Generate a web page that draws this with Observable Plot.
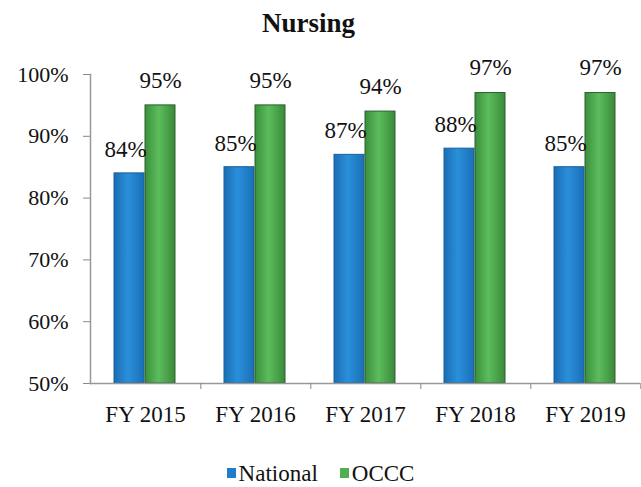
<!DOCTYPE html>
<html>
<head>
<meta charset="utf-8">
<script src="https://cdn.jsdelivr.net/npm/d3@7"></script>
<script src="https://cdn.jsdelivr.net/npm/@observablehq/plot@0.6"></script>
<style>
  html, body { margin: 0; padding: 0; background: #fff; }
  body { width: 641px; height: 487px; overflow: hidden; font-family: serif; }
  #title { height: 44px; line-height: 46px; text-align: center; font-size: 27px; font-weight: bold; color: #111; padding-right: 24px; box-sizing: border-box; font-family: serif; }
  #legend { height: 43px; display: flex; justify-content: center; align-items: center; gap: 22px; font-size: 23px; color: #111; padding-top: 16px; box-sizing: border-box; font-family: serif; }
  .sw { display: inline-block; width: 9px; height: 10px; margin-right: 3px; vertical-align: middle; position: relative; top: -2px; }
  svg { display: block; }
  svg text { font-family: serif; }
</style>
</head>
<body>
<div id="title">Nursing</div>
<div id="chart"></div>
<div id="legend"></div>
<script>
const years = ["FY 2015", "FY 2016", "FY 2017", "FY 2018", "FY 2019"];
const series = ["National", "OCCC"];
const national = [84, 85, 87, 88, 85];
const occc = [95, 95, 94, 97, 97];
const yTicks = [50, 60, 70, 80, 90, 100];
const colors = ["#1f7ecb", "#4fae4f"];

const data = [];
years.forEach((y, i) => {
  data.push({year: y, series: "National", value: national[i]});
  data.push({year: y, series: "OCCC", value: occc[i]});
});

const W = 641, H = 400, ML = 88, MR = 0;
const halfStep = (W - ML - MR) / years.length / 2;
const serif = "serif";

const plot = Plot.plot({
  width: W,
  height: H,
  marginLeft: ML,
  marginRight: MR,
  marginTop: 30,
  marginBottom: 61,
  style: {fontFamily: serif, fontSize: "22px", color: "#111", background: "#fff"},
  fx: {domain: years, paddingInner: 0, paddingOuter: 0, label: null},
  x: {domain: series, paddingInner: 0.02, paddingOuter: 0.77, axis: null},
  y: {domain: [50, 100], label: null},
  color: {domain: series, range: ["url(#gBlue)", "url(#gGreen)"]},
  marks: [
    Plot.barY(data, {fx: "year", x: "series", y1: 50, y2: "value", fill: "series",
      stroke: d => d.series === "OCCC" ? "#2c5f2c" : "#1a5f99", strokeWidth: 1}),
    Plot.text(data.filter(d => d.series === "National"), {fx: "year", x: "series", y: "value", text: d => d.value + "%",
      dy: -24, dx: -4, lineAnchor: "middle", fontSize: 23, fill: "#111", fontFamily: serif}),
    Plot.text(data.filter(d => d.series === "OCCC"), {fx: "year", x: "series", y: "value", text: d => d.value + "%",
      dy: -25, lineAnchor: "middle", fontSize: 23, fill: "#111", fontFamily: serif}),
    Plot.ruleY([50], {stroke: "#999", strokeWidth: 1.5}),
    Plot.axisY({ticks: yTicks, tickFormat: d => d + "%", tickSize: 7, tickPadding: 15, stroke: "#888", fontSize: 22, fontFamily: serif}),
    Plot.axisFx({anchor: "bottom", tickSize: 0, tickPadding: 22, fontSize: 23, label: null, fontFamily: serif}),
    Plot.axisFx({anchor: "bottom", tickSize: 6, tickFormat: () => "", dx: halfStep, stroke: "#888", label: null}),
    Plot.frame({anchor: "left", facet: "super", stroke: "#999", strokeWidth: 1.5})
  ]
});

const svg = d3.select(plot);
const defs = svg.insert("defs", ":first-child");
const gb = defs.append("linearGradient").attr("id", "gBlue").attr("x1", 0).attr("x2", 1).attr("y1", 0).attr("y2", 0);
gb.append("stop").attr("offset", "0%").attr("stop-color", "#1a6db3");
gb.append("stop").attr("offset", "45%").attr("stop-color", "#2a8fda");
gb.append("stop").attr("offset", "100%").attr("stop-color", "#1a70b8");
const gg = defs.append("linearGradient").attr("id", "gGreen").attr("x1", 0).attr("x2", 1).attr("y1", 0).attr("y2", 0);
gg.append("stop").attr("offset", "0%").attr("stop-color", "#3a8f3c");
gg.append("stop").attr("offset", "45%").attr("stop-color", "#5cbd5c");
gg.append("stop").attr("offset", "100%").attr("stop-color", "#3a8a3a");

document.getElementById("chart").appendChild(plot);

const legend = document.getElementById("legend");
series.forEach((s, i) => {
  const item = document.createElement("span");
  item.innerHTML = `<span class="sw" style="background:${colors[i]}"></span>${s}`;
  legend.appendChild(item);
});
</script>
</body>
</html>
